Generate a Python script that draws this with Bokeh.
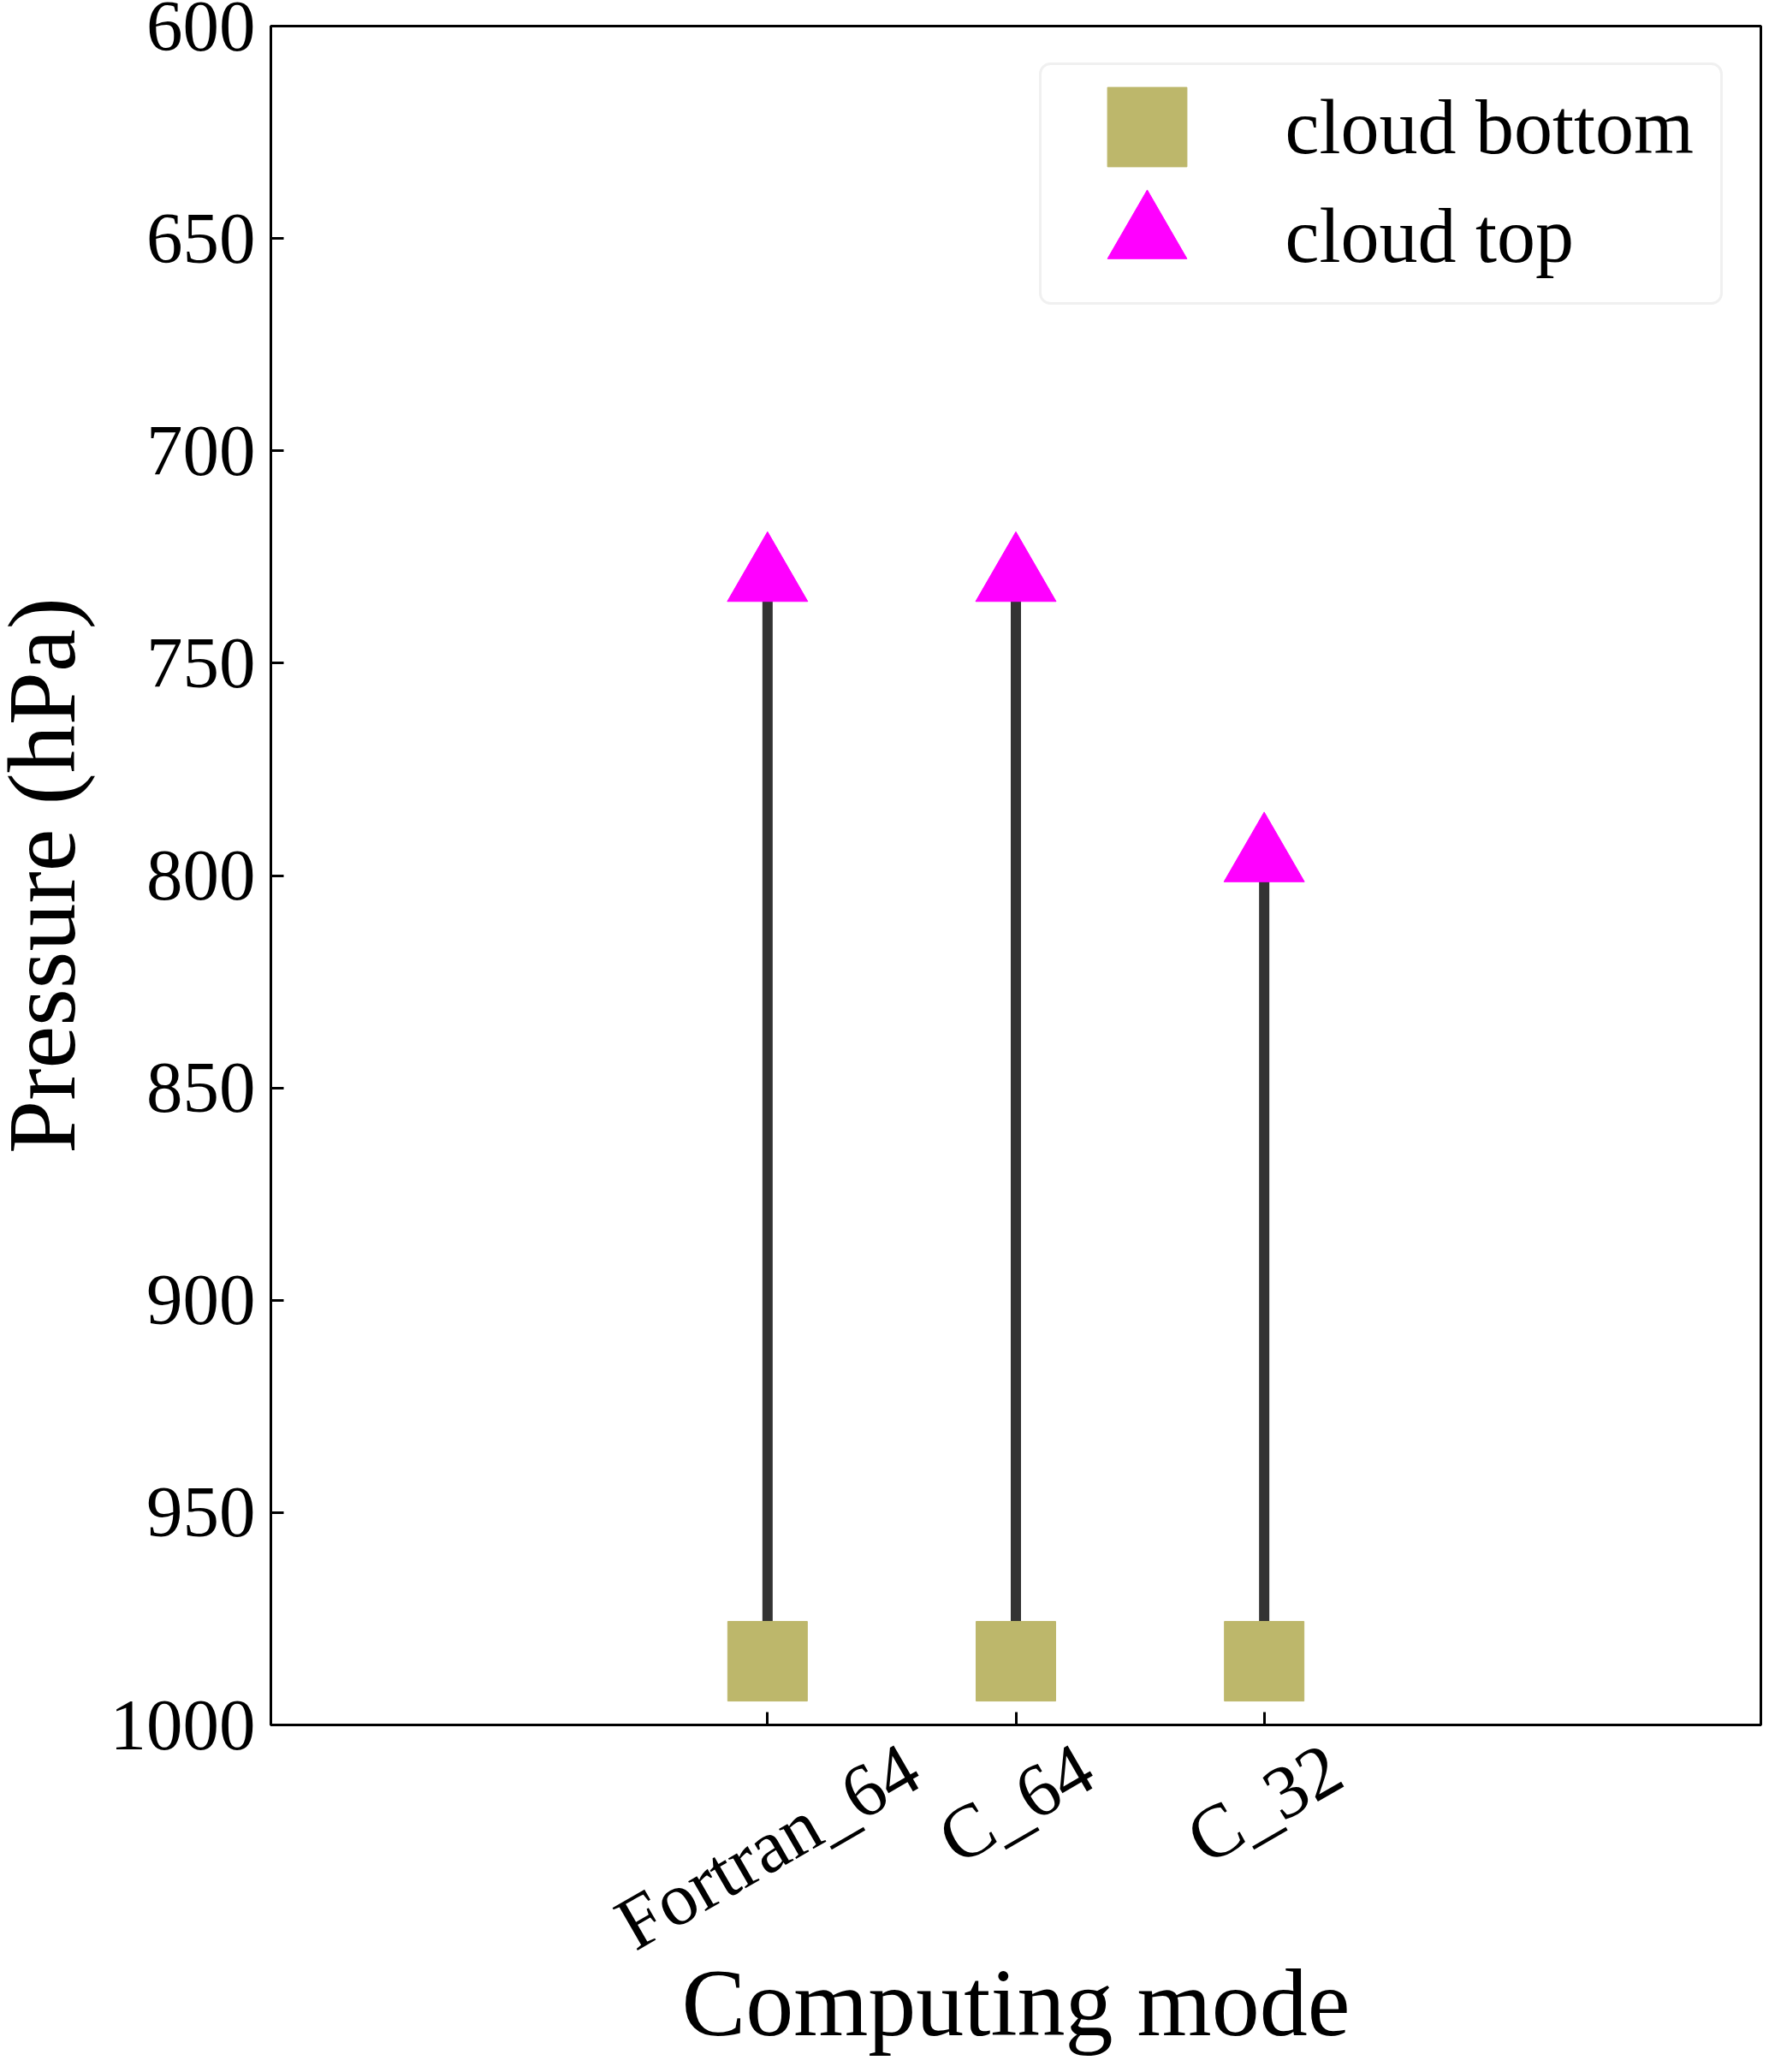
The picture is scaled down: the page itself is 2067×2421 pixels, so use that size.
import math
from bokeh.plotting import figure
from bokeh.models import (Range1d, FixedTicker, Label, ColumnDataSource, LinearAxis,
                          Legend, LegendItem, BoxAnnotation)
from bokeh.embed import file_html
from bokeh.resources import INLINE

# ---------------- data ----------------
modes = ["Fortran_64", "C_64", "C_32"]
cloud_bottom = [985, 985, 985]
cloud_top = [730, 730, 796]
y_ticks = [600, 650, 700, 750, 800, 850, 900, 950, 1000]
x_title = "Computing mode"
y_title = "Pressure (hPa)"
legend_labels = ["cloud bottom", "cloud top"]

# ---------------- layout / style ----------------
W, H = 2059, 2405
LEFT, TOP, RIGHT, BOTTOM = 316, 30, 2, 390
FW = W - LEFT - RIGHT
FH = H - TOP - BOTTOM
FONT = "Liberation Serif"
YTICK_FS = 85
XTICK_FS = 88
TITLE_FS = 112
LEG_FS = 90
ROT = 30  # degrees, rotation of the category labels
C_BOTTOM = "#bdb76b"
C_TOP = "#ff00ff"
C_LINE = "#333333"

xs = list(range(len(modes)))
x_lo, x_hi = -2, len(modes) + 1

p = figure(width=W, height=H, output_backend="svg", toolbar_location=None,
           x_range=Range1d(x_lo, x_hi),
           y_range=Range1d(y_ticks[-1], y_ticks[0]),
           min_border_left=LEFT, min_border_top=TOP,
           min_border_right=RIGHT, min_border_bottom=BOTTOM)
p.title.visible = False
p.grid.visible = False
p.background_fill_color = "white"
p.border_fill_color = "white"
p.outline_line_color = "black"
p.outline_line_width = 3
p.outline_line_alpha = 1

# y axis
ya = p.yaxis[0]
ya.ticker = FixedTicker(ticks=y_ticks)
ya.major_tick_in = 15
ya.major_tick_out = 0
ya.minor_tick_in = 0
ya.minor_tick_out = 0
ya.axis_line_width = 3
ya.major_tick_line_width = 3
ya.major_label_text_font = FONT
ya.major_label_text_font_size = f"{YTICK_FS}px"
ya.major_label_text_color = "black"
ya.major_label_standoff = 18

# x axis: ticks only
xa = p.xaxis[0]
xa.ticker = FixedTicker(ticks=xs)
xa.major_tick_in = 15
xa.major_tick_out = 0
xa.minor_tick_in = 0
xa.minor_tick_out = 0
xa.axis_line_width = 3
xa.major_tick_line_width = 3
xa.major_label_overrides = {i: "" for i in xs}
xa.major_label_text_font_size = "1px"
xa.major_label_standoff = 0

# second bottom axis carrying the rotated category labels and the x title.
# bokeh anchors a rotated label at its end, so the anchor is moved by half the
# (estimated) text length to centre each label under its tick, as in the reference.
TIMES_W = {"F": 556, "o": 500, "r": 333, "t": 278, "a": 444, "n": 500, "_": 500,
           "C": 667, "0": 500, "1": 500, "2": 500, "3": 500, "4": 500, "5": 500,
           "6": 500, "7": 500, "8": 500, "9": 500}


def text_w(s, fs):
    return sum(TIMES_W.get(ch, 500) for ch in s) / 1000.0 * fs


px_per_unit = FW / (x_hi - x_lo)
label_pos = [round(x + text_w(t, XTICK_FS) / 2 * math.cos(math.radians(ROT)) / px_per_unit, 3)
             for x, t in zip(xs, modes)]
xa2 = LinearAxis(ticker=FixedTicker(ticks=label_pos),
                 major_label_overrides={pos: t for pos, t in zip(label_pos, modes)},
                 major_label_orientation=math.radians(ROT),
                 major_label_text_font=FONT,
                 major_label_text_font_size=f"{XTICK_FS}px",
                 major_label_text_color="black",
                 major_label_standoff=44,
                 axis_line_alpha=0, major_tick_line_alpha=0, minor_tick_line_alpha=0,
                 major_tick_in=0, major_tick_out=0, minor_tick_in=0, minor_tick_out=0,
                 axis_label=x_title, axis_label_text_font=FONT,
                 axis_label_text_font_size=f"{TITLE_FS}px",
                 axis_label_text_font_style="normal",
                 axis_label_text_color="black",
                 axis_label_standoff=-64)
p.add_layout(xa2, "below")

# ---------------- marks ----------------
src = ColumnDataSource(dict(x=xs, bottom=cloud_bottom, top=cloud_top))
p.segment(x0="x", y0="bottom", x1="x", y1="top", source=src,
          line_color=C_LINE, line_width=12)
r_bot = p.scatter("x", "bottom", source=src, marker="square", size=93,
                  fill_color=C_BOTTOM, line_color=C_BOTTOM)
r_top = p.scatter("x", "top", source=src, marker="triangle", size=94,
                  fill_color=C_TOP, line_color=C_TOP)

# y axis title (placed as a label to match the tight reference layout)
p.add_layout(Label(x=p.x_range.start, y=(y_ticks[0] + y_ticks[-1]) / 2, x_offset=-268,
                   text=y_title, angle=90, angle_units="deg",
                   text_align="center", text_baseline="middle",
                   text_font=FONT, text_font_size=f"{TITLE_FS}px", text_color="black"),
             "left")

# ---------------- legend ----------------
p.add_layout(BoxAnnotation(left=FW - 842, right=FW - 46, top=FH - 44, bottom=FH - 324,
                           left_units="screen", right_units="screen",
                           top_units="screen", bottom_units="screen",
                           fill_color="white", fill_alpha=1,
                           line_color="#cccccc", line_width=3, border_radius=12))

G = 232
row_centers = [118, 245]  # px below the frame top
for lbl, rend, rc in zip(legend_labels, [r_bot, r_top], row_centers):
    lg = Legend(items=[LegendItem(label=lbl, renderers=[rend])],
                location=(FW - 717.5 - G / 2, FH - (rc + G / 2)),
                glyph_width=G, glyph_height=G, spacing=0, padding=0, margin=0,
                label_standoff=46, label_text_font=FONT,
                label_text_font_size=f"{LEG_FS}px", label_text_color="black",
                border_line_alpha=0, background_fill_alpha=0)
    p.add_layout(lg)

open("out.html", "w").write(file_html(p, INLINE))
